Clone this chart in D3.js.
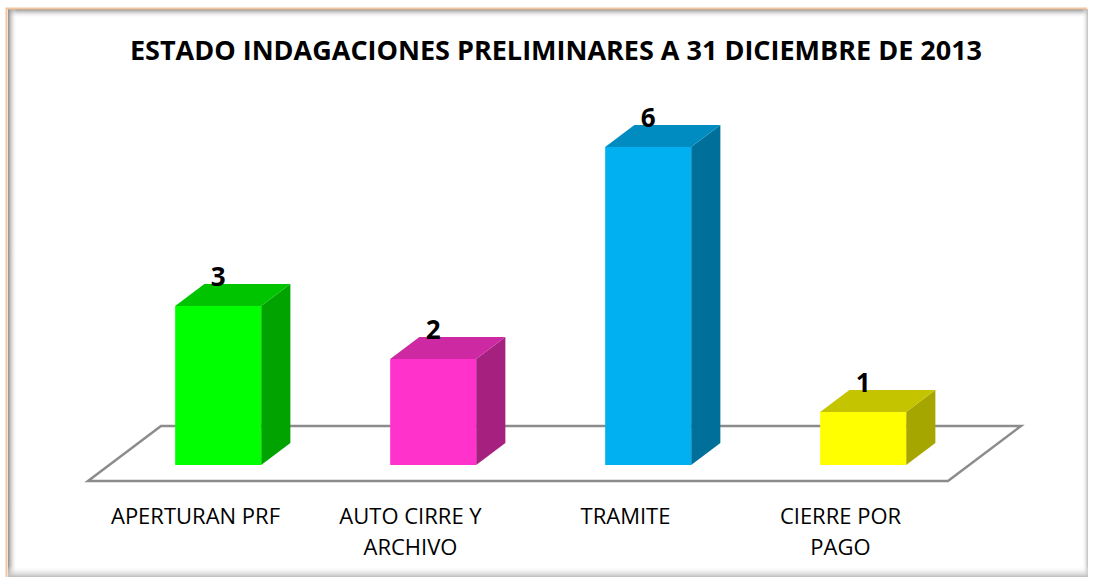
<!DOCTYPE html>
<html>
<head>
<meta charset="utf-8">
<script src="https://cdn.jsdelivr.net/npm/d3@7"></script>
<style>
  html, body { margin: 0; padding: 0; background: #fff; }
  svg { display: block; }
</style>
</head>
<body>
<div id="chart"></div>
<script>
// Chart data
const categories = ['APERTURAN PRF', 'AUTO CIRRE Y ARCHIVO', 'TRAMITE', 'CIERRE POR PAGO'];
const labelLines = [['APERTURAN PRF'], ['AUTO CIRRE Y', 'ARCHIVO'], ['TRAMITE'], ['CIERRE POR', 'PAGO']];
const values = [3, 2, 6, 1];
const frontColors = ['#00ff00', '#ff33cc', '#00b0f0', '#ffff00'];
const topColors = ['#00c400', '#cc29a3', '#008cc0', '#c4c400'];
const sideColors = ['#00a300', '#a6217f', '#00709a', '#a6a600'];
const title = 'ESTADO INDAGACIONES PRELIMINARES A 31 DICIEMBRE DE 2013';

const width = 1094, height = 577;
const font = "'Open Sans', 'Noto Sans', sans-serif";

const svg = d3.select('#chart')
  .append('svg')
    .attr('width', width)
    .attr('height', height);

// Frame with inner shadow
const defs = svg.append('defs');
function shade(id, x1, y1, x2, y2, c) {
  const g = defs.append('linearGradient').attr('id', id)
    .attr('x1', x1).attr('y1', y1).attr('x2', x2).attr('y2', y2);
  g.append('stop').attr('offset', 0).attr('stop-color', c);
  g.append('stop').attr('offset', 1).attr('stop-color', '#fff').attr('stop-opacity', 0);
}
shade('shTop', 0, 0, 0, 1, '#8c8c8c');
shade('shLeft', 0, 0, 1, 0, '#8c8c8c');
shade('shRight', 1, 0, 0, 0, '#bdbdbd');
shade('shBottom', 0, 1, 0, 0, '#bdbdbd');

svg.append('rect').attr('x', 8).attr('y', 9).attr('width', 1080).attr('height', 9).attr('fill', 'url(#shTop)');
svg.append('rect').attr('x', 8).attr('y', 9).attr('width', 9).attr('height', 568).attr('fill', 'url(#shLeft)');
svg.append('rect').attr('x', 1082).attr('y', 9).attr('width', 6).attr('height', 568).attr('fill', 'url(#shRight)');
svg.append('rect').attr('x', 8).attr('y', 566).attr('width', 1080).attr('height', 11).attr('fill', 'url(#shBottom)');
svg.append('path')
  .attr('d', 'M6.5,577 L6.5,8.5 L1087,8.5')
  .attr('fill', 'none')
  .attr('stroke', '#f2c59f')
  .attr('stroke-width', 2);

// Title
svg.append('text')
  .attr('x', 556)
  .attr('y', 60)
  .attr('text-anchor', 'middle')
  .attr('font-family', font)
  .attr('font-weight', 'bold')
  .attr('font-size', 27)
  .attr('fill', '#000')
  .text(title);

// Scales: floor front edge runs along x, depth projects up-right
const x = d3.scaleBand()
  .domain(categories)
  .range([88, 948])
  .padding(0);

const y = d3.scaleLinear()
  .domain([0, 6])
  .range([481, 163]);

const depthX = 73, depthY = 55;       // full floor depth
const zFront = 0.29, zBack = 0.69;    // bar position inside the floor depth
const proj = (px, v, z) => [px + z * depthX, y(v) - z * depthY];

// Floor
const floor = [proj(x.range()[0], 0, 0), proj(x.range()[1], 0, 0), proj(x.range()[1], 0, 1), proj(x.range()[0], 0, 1)];
svg.append('path')
  .attr('d', 'M' + floor.join('L') + 'Z')
  .attr('fill', 'none')
  .attr('stroke', '#8c8c8c')
  .attr('stroke-width', 2.5);

// Bars
const barW = x.bandwidth() * 0.4;
const bars = svg.append('g').selectAll('g')
  .data(categories)
  .join('g');

bars.each(function(c, i) {
  const g = d3.select(this);
  const x0 = x(c) + (x.bandwidth() - barW) / 2 + 1.5;
  const x1 = x0 + barW;
  const v = values[i];
  const fbl = proj(x0, 0, zFront), fbr = proj(x1, 0, zFront);
  const ftl = proj(x0, v, zFront), ftr = proj(x1, v, zFront);
  const btl = proj(x0, v, zBack), btr = proj(x1, v, zBack);
  const bbr = proj(x1, 0, zBack);

  g.append('path')
    .attr('d', 'M' + [fbr, ftr, btr, bbr].join('L') + 'Z')
    .attr('fill', sideColors[i]);
  g.append('path')
    .attr('d', 'M' + [ftl, ftr, btr, btl].join('L') + 'Z')
    .attr('fill', topColors[i]);
  g.append('path')
    .attr('d', 'M' + [fbl, fbr, ftr, ftl].join('L') + 'Z')
    .attr('fill', frontColors[i]);

  // Value label
  g.append('text')
    .attr('x', (ftl[0] + ftr[0]) / 2)
    .attr('y', btl[1] + 2)
    .attr('text-anchor', 'middle')
    .attr('font-family', font)
    .attr('font-weight', 'bold')
    .attr('font-size', 26)
    .attr('fill', '#000')
    .text(v);
});

// Category labels
const labels = svg.append('g').selectAll('text')
  .data(categories)
  .join('text')
    .attr('text-anchor', 'middle')
    .attr('font-family', font)
    .attr('font-size', 22)
    .attr('fill', '#000');

labels.each(function(c, i) {
  const t = d3.select(this);
  labelLines[i].forEach((line, k) => {
    t.append('tspan')
      .attr('x', x(c) + x.bandwidth() / 2)
      .attr('y', 524 + k * 31)
      .text(line);
  });
});
</script>
</body>
</html>
